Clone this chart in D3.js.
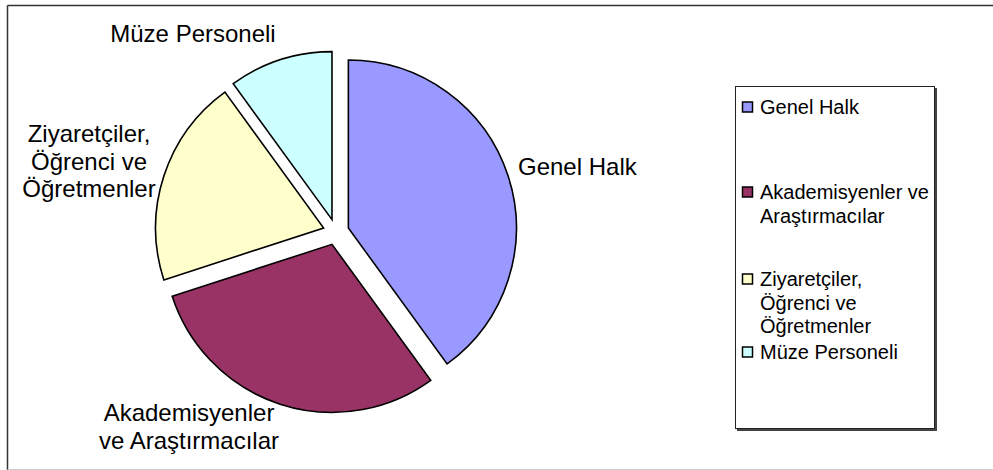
<!doctype html>
<html>
  <head>
    <meta charset="utf-8">
    <script src="https://cdnjs.cloudflare.com/ajax/libs/d3/7.8.5/d3.min.js"></script>
    <style>
      body { margin: 0; background: #fff; }
      svg { display: block; font-family: Arial, "Liberation Sans", sans-serif; }
      path.slice { stroke: #000; stroke-width: 1.6; }
      text.label { font-size: 24px; fill: #000; }
      text.legend { font-size: 20px; fill: #000; }
    </style>
  </head>
  <body>
    <svg width="993" height="470"></svg>
    <script>
      var categories = ["Genel Halk", "Akademisyenler ve Araştırmacılar", "Ziyaretçiler, Öğrenci ve Öğretmenler", "Müze Personeli"];
      var values = [40, 30, 20, 10];
      var colors = ["#9999FF", "#993366", "#FFFFCC", "#CCFFFF"];
      // label lines on the chart and in the legend
      var pieLabels = [["Genel Halk"], ["Akademisyenler", "ve Araştırmacılar"], ["Ziyaretçiler,", "Öğrenci ve", "Öğretmenler"], ["Müze Personeli"]];
      var legendLabels = [["Genel Halk"], ["Akademisyenler ve", "Araştırmacılar"], ["Ziyaretçiler,", "Öğrenci ve", "Öğretmenler"], ["Müze Personeli"]];

      var svg = d3.select("svg");

      // outer frame
      svg.append("line").attr("x1", 7.5).attr("y1", 5.5).attr("x2", 993).attr("y2", 5.5)
        .attr("stroke", "#333").attr("stroke-width", 1.5);
      svg.append("line").attr("x1", 7.5).attr("y1", 5.5).attr("x2", 7.5).attr("y2", 470)
        .attr("stroke", "#333").attr("stroke-width", 1.5);
      svg.append("line").attr("x1", 7.5).attr("y1", 469.5).attr("x2", 993).attr("y2", 469.5)
        .attr("stroke", "#ccc").attr("stroke-width", 1);

      var cx = 336, cy = 232, radius = 168, explode = 13;

      var pie = d3.pie().sort(null).value(d => d);
      var arc = d3.arc().innerRadius(0).outerRadius(radius);
      var arcs = pie(values);

      svg.append("g").selectAll("path").data(arcs)
        .enter()
        .append("path")
          .attr("class", "slice")
          .attr("d", arc)
          .attr("fill", (d, i) => colors[i])
          .attr("transform", d => {
            var mid = (d.startAngle + d.endAngle) / 2;
            return "translate(" + (cx + explode * Math.sin(mid)) + "," + (cy - explode * Math.cos(mid)) + ")";
          });

      // pie labels: anchor point, text-anchor, first baseline
      var labelPos = [
        {x: 518, y: 175, anchor: "start"},
        {x: 189, y: 421, anchor: "middle"},
        {x: 89, y: 142, anchor: "middle"},
        {x: 193, y: 42, anchor: "middle"}
      ];

      labelPos.forEach((p, i) => {
        var t = svg.append("text").attr("class", "label").attr("text-anchor", p.anchor);
        pieLabels[i].forEach((line, j) => {
          t.append("tspan").attr("x", p.x).attr("y", p.y + j * 27.5).text(line);
        });
      });

      // legend
      var lg = svg.append("g");
      lg.append("rect").attr("x", 737).attr("y", 88).attr("width", 200).attr("height", 343).attr("fill", "#444");
      lg.append("rect").attr("x", 735.5).attr("y", 86.5).attr("width", 199).attr("height", 342)
        .attr("fill", "#fff").attr("stroke", "#222").attr("stroke-width", 1);

      var legendY = [107, 192, 279, 352];
      legendLabels.forEach((lines, i) => {
        lg.append("rect")
          .attr("x", 742.5).attr("y", legendY[i] - 5)
          .attr("width", 10).attr("height", 10)
          .attr("fill", colors[i]).attr("stroke", "#000").attr("stroke-width", 1.5);
        var t = lg.append("text").attr("class", "legend");
        lines.forEach((line, j) => {
          t.append("tspan").attr("x", 760).attr("y", legendY[i] + 7 + j * 23.5).text(line);
        });
      });
    </script>
  </body>
</html>
